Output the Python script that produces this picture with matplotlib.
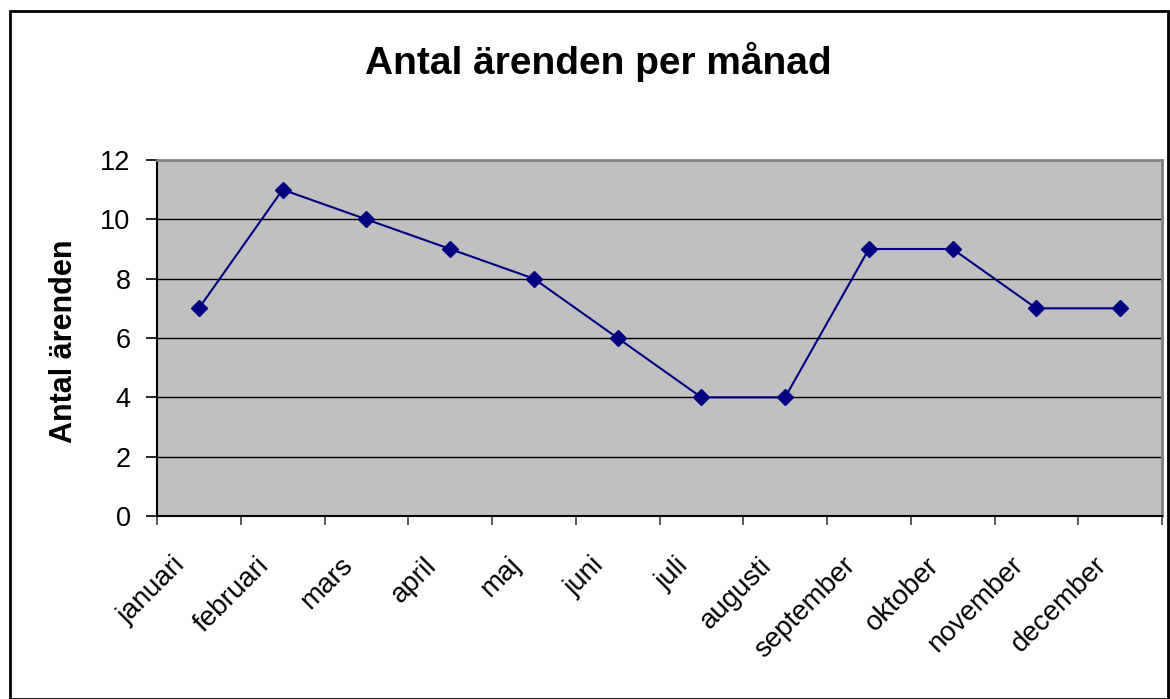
import matplotlib
matplotlib.use("Agg")
import matplotlib.pyplot as plt
from matplotlib.patches import Rectangle
import numpy as np

plt.rcParams['font.family'] = ['Liberation Sans', 'DejaVu Sans']

months = ["januari", "februari", "mars", "april", "maj", "juni", "juli",
          "augusti", "september", "oktober", "november", "december"]
counts = [7, 11, 10, 9, 8, 6, 4, 4, 9, 9, 7, 7]
yticks = [0, 2, 4, 6, 8, 10, 12]

W, H = 1170, 699
fig = plt.figure(figsize=(W / 100, H / 100), dpi=100)

# outer chart border
fig.patches.append(Rectangle((10 / W, 0), (W - 12) / W, (H - 11) / H,
                             transform=fig.transFigure, fill=False,
                             edgecolor='black', linewidth=2))

left, right, top, bottom = 157, 1162, 160, 516
ax = fig.add_axes([left / W, 1 - bottom / H, (right - left) / W, (bottom - top) / H])
ax.set_facecolor('#C0C0C0')

x = np.arange(len(months))
ax.plot(x, counts, color='#000080', linewidth=1.5, marker='D', markersize=8,
        markerfacecolor='#000080', markeredgecolor='#000080', zorder=3)

ax.set_xlim(-0.5, len(months) - 0.5)
ax.set_ylim(0, 12)
ax.set_yticks(yticks)
ax.set_yticklabels([str(v) for v in yticks], fontsize=19.5)
for v in yticks[1:-1]:
    ax.axhline(v, color='black', linewidth=1, zorder=1)

ax.set_xticks(np.arange(len(months) + 1) - 0.5)
ax.set_xticklabels([])
ax.tick_params(axis='x', direction='out', length=6.5, width=1.2, color='#404040')
ax.tick_params(axis='y', direction='out', length=8, width=1.2, color='black', pad=11)

for i, m in enumerate(months):
    ax.annotate(m, xy=(i, 0), xycoords=('data', 'axes fraction'),
                xytext=(-19, -26), textcoords='offset points',
                rotation=45, rotation_mode='anchor', ha='right', va='top',
                fontsize=20)

ax.spines['left'].set_color('black')
ax.spines['bottom'].set_color('black')
ax.spines['left'].set_linewidth(1.5)
ax.spines['bottom'].set_linewidth(1.5)
ax.spines['top'].set_color('#808080')
ax.spines['right'].set_color('#808080')
ax.spines['top'].set_linewidth(2)
ax.spines['right'].set_linewidth(2)

fig.text(64 / W, 1 - 341 / H, 'Antal ärenden', rotation=90, ha='center', va='center',
         fontsize=22, fontweight='bold')

fig.text(598 / W, 1 - 62 / H, 'Antal ärenden per månad', ha='center', va='center',
         fontsize=28, fontweight='bold')

fig.savefig('out.png', dpi=100)
